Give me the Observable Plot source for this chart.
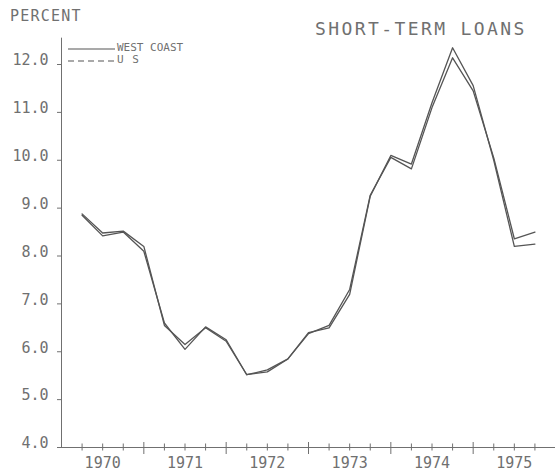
<!DOCTYPE html>
<html>
<head>
<meta charset="utf-8">
<script src="https://cdn.jsdelivr.net/npm/d3@7"></script>
<script src="https://cdn.jsdelivr.net/npm/@observablehq/plot@0.6"></script>
<style>
  html, body { margin: 0; padding: 0; background: #fff; }
  #chart { width: 555px; height: 472px; }
</style>
</head>
<body>
<div id="chart"></div>
<script>
// Quarterly observation dates (decimal years)
const dates = [1970.25, 1970.5, 1970.75, 1971.0, 1971.25, 1971.5, 1971.75, 1972.0,
               1972.25, 1972.5, 1972.75, 1973.0, 1973.25, 1973.5, 1973.75, 1974.0,
               1974.25, 1974.5, 1974.75, 1975.0, 1975.25, 1975.5, 1975.75];
// Short-term loan rates, percent
const westCoast = [8.85, 8.42, 8.50, 8.10, 6.60, 6.05, 6.52, 6.25,
                   5.52, 5.62, 5.85, 6.38, 6.55, 7.30, 9.27, 10.06,
                   9.82, 11.10, 12.14, 11.45, 10.05, 8.36, 8.50];
const us = [8.88, 8.48, 8.52, 8.20, 6.55, 6.15, 6.50, 6.22,
            5.52, 5.58, 5.85, 6.40, 6.50, 7.20, 9.25, 10.10,
            9.92, 11.20, 12.35, 11.56, 10.00, 8.20, 8.25];
const seriesNames = ["WEST COAST", "U S"];
const yTicks = [4, 5, 6, 7, 8, 9, 10, 11, 12];
const years = [1970, 1971, 1972, 1973, 1974, 1975];
const quarterTicks = d3.range(1970.25, 1976, 0.25).filter(q => q % 1 !== 0);
const yearTicks = [1971, 1972, 1973, 1974, 1975, 1976];
const titleText = "SHORT-TERM LOANS";
const yLabel = "PERCENT";

const rows = [];
dates.forEach((d, i) => {
  rows.push({date: d, value: westCoast[i], series: seriesNames[0]});
  rows.push({date: d, value: us[i], series: seriesNames[1]});
});

const ink = "#707070";
const lineInk = "#555";
const font = "'DejaVu Sans Mono', monospace";

const chart = Plot.plot({
  width: 555,
  height: 472,
  marginLeft: 61,
  marginRight: 0,
  marginBottom: 25,
  marginTop: 64,
  style: {fontFamily: font, fontSize: "15px", color: ink, background: "#fff"},
  x: {domain: [1970, 1976], axis: null},
  y: {domain: [4, 12], axis: null},
  marks: [
    // axis lines
    Plot.ruleY([4], {stroke: ink, strokeWidth: 1}),
    Plot.ruleX([1970], {y1: 4, y2: 12.55, stroke: ink, strokeWidth: 1}),
    // x ticks crossing the axis
    Plot.axisX(quarterTicks, {tickSize: 7, dy: -3.5, tickFormat: () => "", label: null, stroke: ink, strokeWidth: 1}),
    Plot.axisX(yearTicks, {tickSize: 12, dy: -5, tickFormat: () => "", label: null, stroke: ink, strokeWidth: 1}),
    Plot.axisX(years.map(y => y + 0.5), {tickSize: 0, tickPadding: 10, label: null,
      tickFormat: d => String(Math.floor(d)), fill: ink, fontSize: 15}),
    // y ticks and labels
    Plot.axisY(yTicks, {tickSize: 4, tickFormat: () => "", label: null, stroke: ink, strokeWidth: 1}),
    Plot.axisY(yTicks, {tickSize: 0, tickPadding: 13, dy: -4, label: null,
      tickFormat: d => d.toFixed(1), fill: ink, fontSize: 15}),
    // data lines
    Plot.line(rows, {x: "date", y: "value", z: "series", stroke: lineInk, strokeWidth: 1.3,
      strokeDasharray: d => d.series === seriesNames[1] ? "7,4" : null})
  ]
});

document.getElementById("chart").appendChild(chart);

const svg = d3.select(chart);
// y label
svg.append("text").attr("x", 10).attr("y", 21).text(yLabel).attr("text-anchor", "start")
  .attr("font-family", font).attr("font-size", 15).attr("fill", ink).attr("letter-spacing", 1.2);
// title
svg.append("text").attr("x", 315).attr("y", 35).text(titleText).attr("text-anchor", "start")
  .attr("font-family", font).attr("font-size", 18).attr("fill", ink).attr("letter-spacing", 2.4);
// legend
const legend = svg.append("g").attr("font-family", font).attr("font-size", 11)
  .attr("fill", ink).attr("text-anchor", "start");
legend.append("line").attr("x1", 68).attr("x2", 115).attr("y1", 49).attr("y2", 49)
  .attr("stroke", lineInk).attr("stroke-width", 1.2);
legend.append("text").attr("x", 117).attr("y", 51).text(seriesNames[0]);
legend.append("line").attr("x1", 68).attr("x2", 115).attr("y1", 61).attr("y2", 61)
  .attr("stroke", lineInk).attr("stroke-width", 1.2).attr("stroke-dasharray", "6,4");
legend.append("text").attr("x", 117).attr("y", 63).text(seriesNames[1]).attr("letter-spacing", 1);
</script>
</body>
</html>
